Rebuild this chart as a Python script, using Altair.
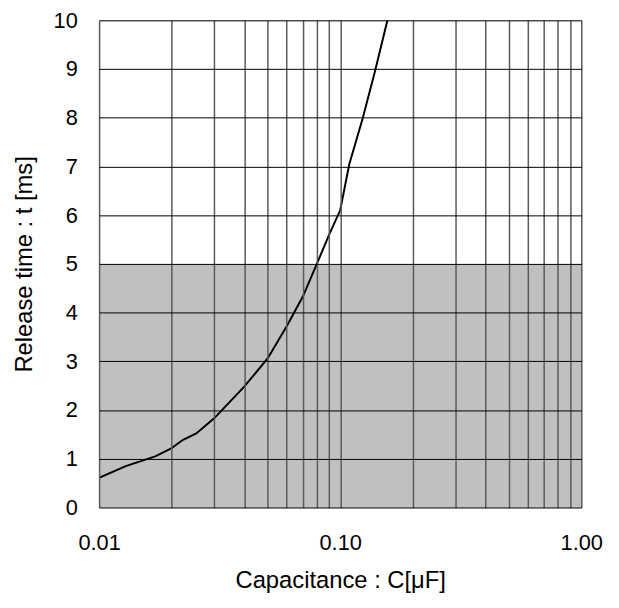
import altair as alt
import pandas as pd

# Curve values
cap_uF = [0.01, 0.0129, 0.0171, 0.02, 0.0223, 0.0253, 0.03, 0.04, 0.05, 0.06,
          0.07, 0.08, 0.09, 0.10, 0.109, 0.124, 0.139, 0.157]
release_ms = [0.61, 0.85, 1.05, 1.22, 1.39, 1.52, 1.83, 2.48, 3.06, 3.72,
              4.33, 5.0, 5.6, 6.1, 7.04, 7.99, 8.93, 10.0]

# Shaded band
band_x = [0.01, 1.0]
band_y = [0, 5]

x_grid = [0.01, 0.02, 0.03, 0.04, 0.05, 0.06, 0.07, 0.08, 0.09,
          0.1, 0.2, 0.3, 0.4, 0.5, 0.6, 0.7, 0.8, 0.9, 1.0]
y_ticks = [0, 1, 2, 3, 4, 5, 6, 7, 8, 9, 10]

FONT = "Liberation Sans"
FS = 22
TFS = 24

curve = pd.DataFrame({"C": cap_uF, "t": release_ms})
band = pd.DataFrame({"x1": [band_x[0]], "x2": [band_x[1]], "y1": [band_y[0]], "y2": [band_y[1]]})

xscale = alt.Scale(type="log", domain=[0.01, 1.0], nice=False)
yscale = alt.Scale(domain=[0, 10], nice=False)

xaxis = alt.Axis(
    title="Capacitance : C[μF]",
    values=x_grid,
    labelExpr="abs(log(datum.value)/log(10) - round(log(datum.value)/log(10))) < 1e-6 ? format(datum.value, '.2f') : ''",
    labelOverlap=False,
    labelFlush=False,
    labelBound=False,
    ticks=False,
    domain=False,
    grid=True,
    gridColor="#5a5a5a",
    gridWidth=1.5,
    gridOpacity=1,
    labelPadding=25,
    titlePadding=16,
    labelFont=FONT, titleFont=FONT,
    labelFontSize=FS, titleFontSize=TFS,
    labelColor="black", titleColor="black",
    titleFontWeight="normal",
    zindex=1,
)
yaxis = alt.Axis(
    title="Release time : t [ms]",
    values=y_ticks,
    ticks=False,
    domain=False,
    grid=True,
    gridColor="black",
    gridWidth=1,
    gridOpacity=1,
    labelPadding=22,
    titlePadding=17,
    labelFont=FONT, titleFont=FONT,
    labelFontSize=FS, titleFontSize=TFS,
    labelColor="black", titleColor="black",
    titleFontWeight="normal",
    zindex=1,
)

shade = alt.Chart(band).mark_rect(color="#c0c0c0", opacity=1).encode(
    x=alt.X("x1:Q", scale=xscale, axis=xaxis),
    x2="x2:Q",
    y=alt.Y("y1:Q", scale=yscale, axis=yaxis),
    y2="y2:Q",
)

line = alt.Chart(curve).mark_line(color="black", strokeWidth=2, clip=True).encode(
    x=alt.X("C:Q", scale=xscale),
    y=alt.Y("t:Q", scale=yscale),
)

chart = alt.layer(shade, line).properties(
    width=487,
    height=492,
    autosize=alt.AutoSizeParams(type="none"),
    padding={"left": 92, "top": 9.5, "right": 30, "bottom": 90},
).configure_view(
    stroke="black", strokeWidth=2
).configure(background="white")

chart.save("out.html", embed_options={"renderer": "svg", "actions": False})
